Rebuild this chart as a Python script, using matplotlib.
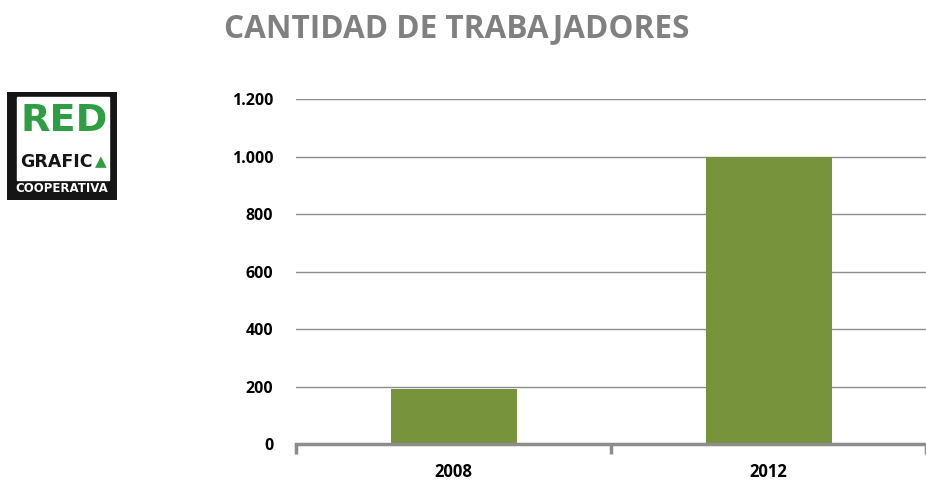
import matplotlib.pyplot as plt
from matplotlib.patches import Rectangle

# datos
anios = ["2008", "2012"]
trabajadores = [190, 1000]
marcas_y = [0, 200, 400, 600, 800, 1000, 1200]
etiquetas_y = ["0", "200", "400", "600", "800", "1.000", "1.200"]

verde = "#77933c"
gris = "#8c8c8c"
fuente = ["Open Sans", "DejaVu Sans"]

fig = plt.figure(figsize=(9.26, 4.83), dpi=100)

# titulo
fig.text(0.4935, 0.941, "CANTIDAD DE TRABAJADORES", ha="center", va="center",
         fontsize=22.7, fontweight="bold", color="#808080", family=fuente)

# grafico de barras
ax = fig.add_axes([0.3197, 0.0807, 0.6803, 0.7143])
x = list(range(len(anios)))
ax.bar(x, trabajadores, width=0.4, color=verde, zorder=3)
ax.set_xlim(-0.5, 1.5)
ax.set_ylim(0, 1200)
ax.set_yticks(marcas_y)
ax.set_yticklabels(etiquetas_y, fontsize=11.5, fontweight="bold", family=fuente)
ax.tick_params(axis="y", length=0, pad=16.5)
ax.set_xticks(x)
ax.set_xticklabels(anios, fontsize=12, fontweight="bold", family=fuente)
ax.tick_params(axis="x", which="major", length=0, pad=14)
ax.set_xticks([-0.5, 0.5, 1.5], minor=True)
ax.tick_params(axis="x", which="minor", length=7, width=2.5, color=gris)
ax.grid(axis="y", color=gris, linewidth=1.0, zorder=0)
for lado in ["top", "right", "left"]:
    ax.spines[lado].set_visible(False)
ax.spines["bottom"].set_color(gris)
ax.spines["bottom"].set_linewidth(2.5)
ax.spines["bottom"].set_zorder(4)

# logo
lg = fig.add_axes([7 / 926, 1 - 200 / 483, 110 / 926, 108 / 483])
lg.set_xlim(0, 110)
lg.set_ylim(108, 0)
lg.axis("off")
lg.add_patch(Rectangle((0, 0), 110, 108, color="#151515"))
lg.add_patch(Rectangle((10, 5), 92, 83, color="white"))
lg.text(57, 29, "RED", ha="center", va="center", fontsize=27.5, fontweight="bold",
        color="#2e9e44", family="DejaVu Sans")
lg.text(49, 70, "GRAFIC", ha="center", va="center", fontsize=12.5, fontweight="bold",
        color="#151515", family="DejaVu Sans")
lg.text(94, 70, "▲", ha="center", va="center", fontsize=11, color="#2e9e44")
lg.text(55, 97, "COOPERATIVA", ha="center", va="center", fontsize=8.5, fontweight="bold",
        color="white", family="DejaVu Sans")

fig.savefig("out.png", dpi=100)
